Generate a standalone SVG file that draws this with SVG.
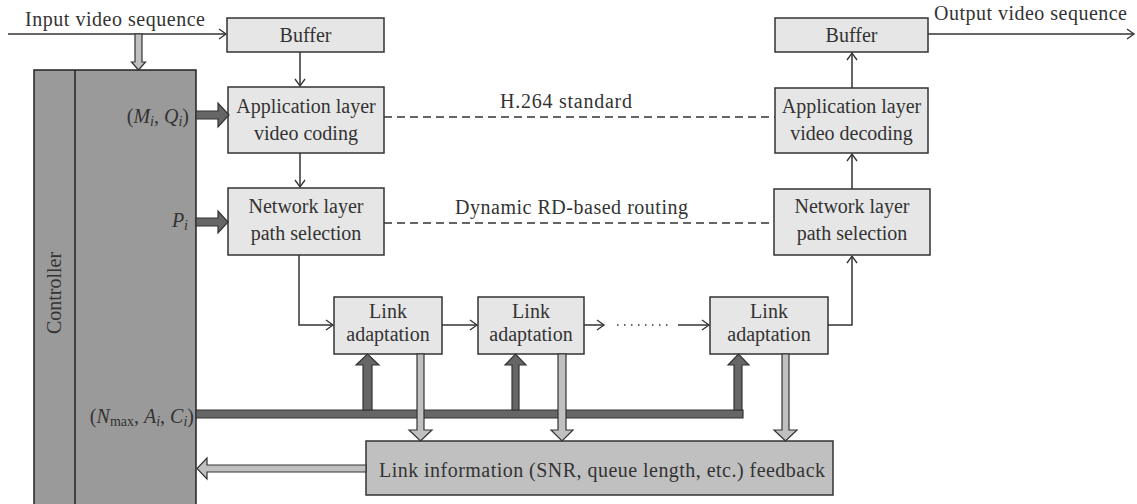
<svg xmlns="http://www.w3.org/2000/svg" width="1137" height="504" viewBox="0 0 1137 504" font-family="'Liberation Serif', 'Times New Roman', serif" font-size="20">
<defs>
<marker id="ah" markerWidth="10" markerHeight="12" refX="8" refY="6" orient="auto" markerUnits="userSpaceOnUse">
<path d="M1,1 L8,6 L1,11" fill="none" stroke="#333" stroke-width="1.3"/>
</marker>
<style>
text{font-family:'Liberation Serif','Times New Roman',serif;font-size:20px;fill:#333}
.box{fill:#e6e6e6;stroke:#333;stroke-width:1.5}
.line{fill:none;stroke:#333;stroke-width:1.5}
.dash{fill:none;stroke:#333;stroke-width:1.5;stroke-dasharray:8 5}
.dark{fill:#666;stroke:#333;stroke-width:1.2}
.light{fill:#c0c0c0;stroke:#333;stroke-width:1.2}
.it{font-style:italic}
.sub{font-size:14px}
</style>
</defs>
<rect width="1137" height="504" fill="#fff"/>

<g id="controller">
<rect x="34" y="70" width="162" height="440" fill="#9a9a9a" stroke="#222" stroke-width="1.5"/>
<line x1="75" y1="70" x2="75" y2="504" stroke="#222" stroke-width="1.5"/>
<text text-anchor="middle" transform="translate(61,293) rotate(-90)">Controller</text>
<text text-anchor="end" x="189" y="123">(<tspan class="it">M</tspan><tspan class="it sub" dy="3">i</tspan><tspan dy="-3">, </tspan><tspan class="it">Q</tspan><tspan class="it sub" dy="3">i</tspan><tspan dy="-3">)</tspan></text>
<text text-anchor="end" x="188" y="227"><tspan class="it">P</tspan><tspan class="it sub" dy="3">i</tspan></text>
<text text-anchor="end" x="194" y="423">(<tspan class="it">N</tspan><tspan class="sub" dy="3">max</tspan><tspan dy="-3">, </tspan><tspan class="it">A</tspan><tspan class="it sub" dy="3">i</tspan><tspan dy="-3">, </tspan><tspan class="it">C</tspan><tspan class="it sub" dy="3">i</tspan><tspan dy="-3">)</tspan></text>
</g>

<g id="buffer-in">
<rect class="box" x="227" y="18" width="157" height="34"/>
<text text-anchor="middle" x="305.5" y="42">Buffer</text>
</g>
<g id="app-coding">
<rect class="box" x="228" y="87" width="156" height="66"/>
<text text-anchor="middle" x="306" y="113">Application layer</text>
<text text-anchor="middle" x="306" y="140">video coding</text>
</g>
<g id="net-left">
<rect class="box" x="228" y="188" width="156" height="67"/>
<text text-anchor="middle" x="306" y="213">Network layer</text>
<text text-anchor="middle" x="306" y="240">path selection</text>
</g>
<g id="buffer-out">
<rect class="box" x="775" y="18" width="153" height="34"/>
<text text-anchor="middle" x="851.5" y="42">Buffer</text>
</g>
<g id="app-decoding">
<rect class="box" x="775" y="88" width="153" height="65"/>
<text text-anchor="middle" x="851.5" y="113">Application layer</text>
<text text-anchor="middle" x="851.5" y="140">video decoding</text>
</g>
<g id="net-right">
<rect class="box" x="774" y="189" width="156" height="66"/>
<text text-anchor="middle" x="852" y="213">Network layer</text>
<text text-anchor="middle" x="852" y="240">path selection</text>
</g>
<g id="link1">
<rect class="box" x="334" y="297" width="108" height="57"/>
<text text-anchor="middle" x="388" y="318">Link</text>
<text text-anchor="middle" x="388" y="341">adaptation</text>
</g>
<g id="link2">
<rect class="box" x="478" y="297" width="106" height="57"/>
<text text-anchor="middle" x="531" y="318">Link</text>
<text text-anchor="middle" x="531" y="341">adaptation</text>
</g>
<g id="link3">
<rect class="box" x="710" y="297" width="118" height="57"/>
<text text-anchor="middle" x="769" y="318">Link</text>
<text text-anchor="middle" x="769" y="341">adaptation</text>
</g>
<g id="feedback">
<rect x="366" y="441" width="467" height="54" fill="#c0c0c0" stroke="#333" stroke-width="1.5"/>
<text x="379" y="477" textLength="446" lengthAdjust="spacing">Link information (SNR, queue length, etc.) feedback</text>
</g>

<g id="connectors">
<line class="line" x1="8" y1="34" x2="226" y2="34" marker-end="url(#ah)"/>
<text x="25" y="26" textLength="180" lengthAdjust="spacing">Input video sequence</text>
<line class="line" x1="928" y1="34" x2="1134" y2="34" marker-end="url(#ah)"/>
<text x="934" y="20" textLength="193" lengthAdjust="spacing">Output video sequence</text>
<line class="line" x1="300" y1="52" x2="300" y2="86" marker-end="url(#ah)"/>
<line class="line" x1="300" y1="153" x2="300" y2="187" marker-end="url(#ah)"/>
<line class="line" x1="852" y1="88" x2="852" y2="53" marker-end="url(#ah)"/>
<line class="line" x1="852" y1="189" x2="852" y2="154" marker-end="url(#ah)"/>
<polyline class="line" points="299,255 299,325 333,325" marker-end="url(#ah)"/>
<line class="line" x1="442" y1="325" x2="477" y2="325" marker-end="url(#ah)"/>
<line class="line" x1="584" y1="325" x2="604" y2="325" marker-end="url(#ah)"/>
<line x1="617" y1="325" x2="668" y2="325" stroke="#333" stroke-width="1.5" stroke-dasharray="1.5 5.5"/>
<line class="line" x1="678" y1="325" x2="709" y2="325" marker-end="url(#ah)"/>
<polyline class="line" points="828,325 852,325 852,256" marker-end="url(#ah)"/>
<line class="dash" x1="384" y1="117" x2="775" y2="117"/>
<text x="500" y="108" textLength="132" lengthAdjust="spacing">H.264 standard</text>
<line class="dash" x1="384" y1="223" x2="774" y2="223"/>
<text x="455" y="214" textLength="233" lengthAdjust="spacing">Dynamic RD-based routing</text>

<path class="light" d="M135,34 V62 H131.5 L138.5,70 L145.5,62 H142 V34 Z"/>
<path class="dark" d="M196,111 H218 V103 L229,115 L218,127 V119 H196 Z"/>
<path class="dark" d="M196,218 H218 V211 L228,222 L218,233 V226 H196 Z"/>

<path class="dark" d="M196,410 H743 V418 H196 Z"/>
<path class="dark" d="M363,410 V365 H356 L367.5,354 L379,365 H372 V410 Z"/>
<path class="dark" d="M512,410 V365 H505 L515.5,354 L526,365 H519 V410 Z"/>
<path class="dark" d="M734,410 V365 H728 L738.5,354 L749,365 H742 V410 Z"/>

<path class="light" d="M417,354 V430 H409 L420.5,441 L432,430 H424 V354 Z"/>
<path class="light" d="M558,354 V430 H551 L562,441 L573,430 H566 V354 Z"/>
<path class="light" d="M782,354 V430 H774 L785.5,441 L797,430 H789 V354 Z"/>

<path class="light" d="M366,465 H207 V458 L197,468.5 L207,479 V472 H366 Z"/>
</g>
</svg>
